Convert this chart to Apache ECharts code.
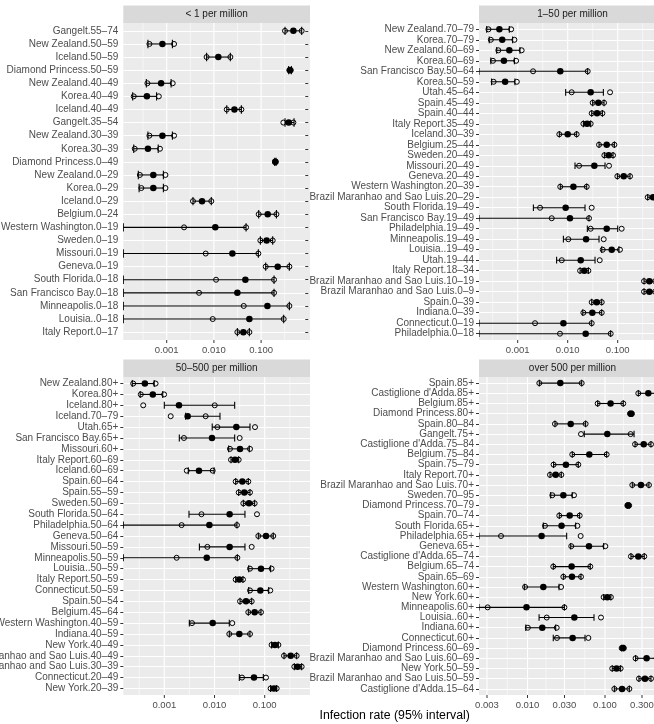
<!DOCTYPE html>
<html><head><meta charset="utf-8">
<script src="https://cdn.jsdelivr.net/npm/echarts@6/dist/echarts.min.js"></script>
<style>html,body{margin:0;padding:0;background:#fff}#c{width:654px;height:724px}</style>
</head><body><div id="c"></div>
<script>
// ---------- DATA ----------
const panelTitles = ["< 1 per million", "1–50 per million", "50–500 per million", "over 500 per million"];
const axisTitle = "Infection rate (95% interval)";
const ticksDecades = [0.001, 0.01, 0.1];
const ticksFine = [0.003, 0.01, 0.03, 0.1, 0.3];

const cats1 = ["Gangelt.55–74","New Zealand.50–59","Iceland.50–59","Diamond Princess.50–59","New Zealand.40–49","Korea.40–49","Iceland.40–49","Gangelt.35–54","New Zealand.30–39","Korea.30–39","Diamond Princess.0–49","New Zealand.0–29","Korea.0–29","Iceland.0–29","Belgium.0–24","Western Washington.0–19","Sweden.0–19","Missouri.0–19","Geneva.0–19","South Florida.0–18","San Francisco Bay.0–18","Minneapolis.0–18","Louisia..0–18","Italy Report.0–17"];
const est1 = [0.483,0.00081,0.0124,0.410,0.00076,0.00038,0.0272,0.384,0.00081,0.00040,0.200,0.00052,0.00052,0.0056,0.138,0.0107,0.131,0.0246,0.225,0.0464,0.0314,0.136,0.0564,0.0421];
const lo1 = [0.321,0.00040,0.0070,0.384,0.00037,0.00019,0.0187,0.321,0.00040,0.00020,0.194,0.00025,0.00026,0.0036,0.0889,0,0.0965,0,0.125,0,0,0,0,0.0314];
const hi1 = [0.724,0.00132,0.0223,0.438,0.00124,0.00061,0.0382,0.499,0.00132,0.00066,0.207,0.00085,0.00085,0.0088,0.211,0.048,0.176,0.0875,0.397,0.188,0.188,0.397,0.301,0.0564];
const altLo1 = [0.321,0.00043,0.0070,0.397,0.00039,0.00020,0.0187,0.296,0.00043,0.00021,0.197,0.00027,0.00029,0.0036,0.0889,0.00233,0.0965,0.0067,0.125,0.0111,0.00484,0.0428,0.00944,0.0314];
const altHi1 = [0.724,0.00143,0.0223,0.424,0.00134,0.00068,0.0382,0.483,0.00143,0.00072,0.204,0.00094,0.00094,0.0088,0.211,0.048,0.176,0.0875,0.397,0.188,0.188,0.397,0.301,0.0564];

const cats2 = ["New Zealand.70–79","Korea.70–79","New Zealand.60–69","Korea.60–69","San Francisco Bay.50–64","Korea.50–59","Utah.45–64","Spain.45–49","Spain.40–44","Italy Report.35–49","Iceland.30–39","Belgium.25–44","Sweden.20–49","Missouri.20–49","Geneva.20–49","Western Washington.20–39","Brazil Maranhao and Sao Luis.20–29","South Florida.19–49","San Francisco Bay.19–49","Philadelphia.19–49","Minneapolis.19–49","Louisia..19–49","Utah.19–44","Italy Report.18–34","Brazil Maranhao and Sao Luis.10–19","Brazil Maranhao and Sao Luis.0–9","Spain.0–39","Indiana.0–39","Connecticut.0–19","Philadelphia.0–18"];
const est2 = [0.00043,0.00049,0.00068,0.00053,0.0071,0.00056,0.0288,0.041,0.0386,0.0244,0.0100,0.0603,0.0661,0.0341,0.132,0.0130,0.509,0.0091,0.0111,0.0603,0.0233,0.0759,0.0182,0.0215,0.430,0.430,0.0380,0.0311,0.0082,0.0229];
const lo2 = [0.00024,0.00027,0.00038,0.00029,0,0.00030,0.0091,0.0316,0.0302,0.0206,0.0068,0.0423,0.0541,0.0140,0.0985,0.0071,0.398,0.00206,0,0.0247,0.0082,0.0479,0.0060,0.0177,0.336,0.336,0.0302,0.0200,0,0];
const hi2 = [0.00068,0.00079,0.00111,0.00086,0.0251,0.00088,0.0517,0.0533,0.0494,0.0288,0.0151,0.0858,0.0807,0.0558,0.1765,0.0240,0.65,0.0222,0.0267,0.100,0.0423,0.106,0.0352,0.0259,0.558,0.558,0.0479,0.0479,0.0302,0.0724];
const altLo2 = [0.00026,0.00029,0.00041,0.00032,0.00203,0.00033,0.0120,0.0316,0.0302,0.0206,0.0068,0.0423,0.0541,0.0169,0.0985,0.0071,0.398,0.0028,0.00479,0.0288,0.0103,0.0501,0.0076,0.0177,0.336,0.336,0.0302,0.0206,0.00222,0.0070];
const altHi2 = [0.00074,0.00086,0.00120,0.00093,0.0251,0.00096,0.0703,0.0533,0.0494,0.0288,0.0151,0.0858,0.0807,0.0671,0.1765,0.0240,0.65,0.0302,0.0267,0.120,0.0525,0.111,0.0437,0.0259,0.558,0.558,0.0479,0.0479,0.0302,0.0724];

const cats3 = ["New Zealand.80+","Korea.80+","Iceland.80+","Iceland.70–79","Utah.65+","San Francisco Bay.65+","Missouri.60+","Italy Report.60–69","Iceland.60–69","Spain.60–64","Spain.55–59","Sweden.50–69","South Florida.50–64","Philadelphia.50–64","Geneva.50–64","Missouri.50–59","Minneapolis.50–59","Louisia..50–59","Italy Report.50–59","Connecticut.50–59","Spain.50–54","Belgium.45–64","Western Washington.40–59","Indiana.40–59","New York.40–49","Brazil Maranhao and Sao Luis.40–49","Brazil Maranhao and Sao Luis.30–39","Connecticut.20–49","New York.20–39"];
const est3 = [0.00041,0.00059,0.00196,0.00292,0.0272,0.0089,0.0322,0.0256,0.0049,0.0358,0.0392,0.0486,0.0200,0.0079,0.106,0.0200,0.0070,0.0843,0.0312,0.0817,0.0424,0.0630,0.0092,0.0312,0.160,0.329,0.453,0.0611,0.153];
const lo3 = [0.00023,0.00033,0.0010,0.00266,0.0090,0.00199,0.0191,0.0213,0.0030,0.0264,0.0303,0.0375,0.0031,0,0.0746,0.0050,0,0.0479,0.0264,0.0479,0.0322,0.0471,0.00315,0.0197,0.137,0.242,0.389,0.0312,0.131];
const hi3 = [0.00063,0.00093,0.0252,0.01285,0.0509,0.0252,0.0494,0.0303,0.0098,0.0471,0.0509,0.063,0.0404,0.028,0.148,0.0404,0.0285,0.131,0.0369,0.120,0.055,0.0843,0.0197,0.0509,0.187,0.433,0.544,0.0938,0.173];
const altLo3 = [0.00024,0.00034,0.00038,0.00134,0.0114,0.00246,0.0203,0.0213,0.0028,0.0264,0.0303,0.0375,0.0055,0.00221,0.0746,0.0072,0.00176,0.0509,0.0264,0.0509,0.0322,0.0471,0.00356,0.0197,0.137,0.242,0.389,0.0353,0.131];
const altHi3 = [0.00067,0.00099,0.0101,0.00666,0.064,0.0317,0.0509,0.0303,0.0092,0.0471,0.0509,0.063,0.0701,0.028,0.148,0.055,0.0285,0.137,0.0369,0.129,0.055,0.0843,0.0226,0.0509,0.187,0.433,0.544,0.106,0.173];

const cats4 = ["Spain.85+","Castiglione d'Adda.85+","Belgium.85+","Diamond Princess.80+","Spain.80–84","Gangelt.75+","Castiglione d'Adda.75–84","Belgium.75–84","Spain.75–79","Italy Report.70+","Brazil Maranhao and Sao Luis.70+","Sweden.70–95","Diamond Princess.70–79","Spain.70–74","South Florida.65+","Philadelphia.65+","Geneva.65+","Castiglione d'Adda.65–74","Belgium.65–74","Spain.65–69","Western Washington.60+","New York.60+","Minneapolis.60+","Louisia..60+","Indiana.60+","Connecticut.60+","Diamond Princess.60–69","Brazil Maranhao and Sao Luis.60–69","New York.50–59","Brazil Maranhao and Sao Luis.50–59","Castiglione d'Adda.15–64"];
const est4 = [0.0265,0.362,0.118,0.216,0.0361,0.107,0.316,0.0627,0.0313,0.0231,0.291,0.029,0.199,0.035,0.0275,0.0152,0.0621,0.269,0.0371,0.0375,0.016,0.107,0.0097,0.0402,0.0155,0.0382,0.170,0.344,0.141,0.328,0.166];
const lo4 = [0.0142,0.269,0.0804,0.210,0.0226,0.054,0.244,0.0378,0.0217,0.0195,0.225,0.0199,0.194,0.0257,0.016,0,0.0361,0.216,0.0215,0.029,0.0091,0.096,0,0.0141,0.0095,0.0215,0.164,0.248,0.124,0.274,0.132];
const hi4 = [0.050,0.488,0.172,0.223,0.0562,0.237,0.392,0.105,0.0452,0.0273,0.369,0.0378,0.205,0.0471,0.0418,0.032,0.096,0.321,0.0645,0.049,0.0255,0.119,0.0299,0.0721,0.0231,0.0552,0.175,0.463,0.159,0.392,0.206];
const altLo4 = [0.0142,0.269,0.0804,0.210,0.0226,0.049,0.244,0.0378,0.0217,0.0195,0.225,0.0209,0.194,0.0257,0.0168,0.00455,0.0367,0.216,0.0215,0.029,0.0093,0.096,0.00306,0.0177,0.0101,0.024,0.164,0.248,0.124,0.274,0.132];
const altHi4 = [0.050,0.488,0.172,0.223,0.0562,0.214,0.392,0.105,0.0452,0.0273,0.369,0.0398,0.205,0.0471,0.044,0.0485,0.101,0.321,0.0645,0.049,0.0271,0.119,0.0299,0.0887,0.0238,0.061,0.175,0.463,0.159,0.392,0.206];

// ---------- LAYOUT ----------
const FONT = '"Liberation Sans", Arial, Helvetica, sans-serif';
const panels = [
  {cats: cats1, est: est1, lo: lo1, hi: hi1, aLo: altLo1, aHi: altHi1, ticks: ticksDecades},
  {cats: cats2, est: est2, lo: lo2, hi: hi2, aLo: altLo2, aHi: altHi2, ticks: ticksDecades},
  {cats: cats3, est: est3, lo: lo3, hi: hi3, aLo: altLo3, aHi: altHi3, ticks: ticksDecades},
  {cats: cats4, est: est4, lo: lo4, hi: hi4, aLo: altLo4, aHi: altHi4, ticks: ticksFine}
];
const boxes = [
  {left: 123.3, top: 23, width: 186.7, height: 317, xMin: -3.92, xMax: 0.036},
  {left: 479, top: 23, width: 187, height: 317, xMin: -3.774, xMax: -0.034},
  {left: 123.3, top: 377, width: 186.7, height: 318, xMin: -3.817, xMax: -0.098},
  {left: 479, top: 377, width: 187, height: 318, xMin: -2.626, xMax: -0.213}
];
const STRIP_H = 17.5;

function minorBreaks(major, lo, hi) {
  const b = major.slice();
  const d = b[1] - b[0];
  if (lo < b[0]) b.unshift(b[0] - d);
  if (hi > b[b.length - 1]) b.push(b[b.length - 1] + d);
  const out = [];
  for (let i = 0; i < b.length - 1; i++) {
    const m = (b[i] + b[i + 1]) / 2;
    if (m >= lo && m <= hi) out.push(m);
  }
  return out;
}

// vertical grid lines (inside panel) or tick marks (below panel) at x positions through the axis scale
function vLineSeries(i, values, opts) {
  return {type: 'custom', xAxisIndex: i, yAxisIndex: i, z: opts.z, silent: true, clip: !opts.tick,
    encode: {x: 0, y: 1}, data: values.map(v => [v, 0]),
    renderItem: (params, api) => {
      const cs = params.coordSys;
      const x = api.coord([api.value(0), 0])[0];
      const y1 = opts.tick ? cs.y + cs.height : cs.y;
      const y2 = opts.tick ? cs.y + cs.height + 3 : cs.y + cs.height;
      return {type: 'line', shape: {x1: x, y1: y1, x2: x, y2: y2},
        style: {stroke: opts.color, lineWidth: opts.width}};
    }};
}

const grid = [], xAxis = [], yAxis = [], series = [], graphic = [];
panels.forEach((p, i) => {
  const B = boxes[i];
  grid.push({left: B.left, top: B.top, width: B.width, height: B.height, show: true,
    backgroundColor: '#EBEBEB', borderWidth: 0, outerBoundsMode: 'none'});
  const major = p.ticks.map(v => Math.log10(v));
  const minor = minorBreaks(major, B.xMin, B.xMax);
  xAxis.push({type: 'value', gridIndex: i, min: B.xMin, max: B.xMax, position: 'bottom',
    axisLine: {show: false}, axisTick: {show: false},
    axisLabel: {customValues: major, formatter: v => Math.pow(10, v).toFixed(3),
      color: '#4D4D4D', fontSize: 9.5, fontFamily: FONT, margin: 5},
    splitLine: {show: false}});
  const n = p.cats.length;
  const idx = p.cats.map((_, k) => k);
  yAxis.push({type: 'value', gridIndex: i, min: -0.6, max: n - 0.4, inverse: true,
    axisLine: {show: false},
    axisTick: {show: true, length: 3, lineStyle: {color: '#333333', width: 1}, customValues: idx},
    axisLabel: {customValues: idx, formatter: v => p.cats[Math.round(v)],
      color: '#4D4D4D', fontSize: 10, fontFamily: FONT, margin: 5},
    splitLine: {show: true, lineStyle: {color: '#FFFFFF', width: 1.1}}});

  series.push(vLineSeries(i, minor, {z: 5, color: '#FFFFFF', width: 0.55}));
  series.push(vLineSeries(i, major, {z: 6, color: '#FFFFFF', width: 1.1}));
  series.push(vLineSeries(i, major, {z: 6, color: '#333333', width: 1, tick: true}));

  const bars = p.est.map((_, k) => [k, p.lo[k] > 0 ? Math.log10(p.lo[k]) : B.xMin, Math.log10(p.hi[k])]);
  series.push({type: 'custom', xAxisIndex: i, yAxisIndex: i, clip: true, z: 10,
    encode: {x: [1, 2], y: 0}, data: bars,
    renderItem: (params, api) => {
      const y = api.value(0);
      const a = api.coord([api.value(1), y]);
      const b = api.coord([api.value(2), y]);
      const h = api.size([0, 1])[1] * 0.32;
      const st = {stroke: '#000', lineWidth: 1.1, fill: null};
      return {type: 'group', children: [
        {type: 'line', shape: {x1: a[0], y1: a[1], x2: b[0], y2: b[1]}, style: st},
        {type: 'line', shape: {x1: a[0], y1: a[1] - h, x2: a[0], y2: a[1] + h}, style: st},
        {type: 'line', shape: {x1: b[0], y1: b[1] - h, x2: b[0], y2: b[1] + h}, style: st}
      ]};
    }});
  series.push({type: 'scatter', xAxisIndex: i, yAxisIndex: i, z: 11, symbol: 'circle', symbolSize: 6.5,
    itemStyle: {color: '#000', opacity: 1}, clip: true,
    data: p.est.map((v, k) => [Math.log10(v), k])});
  const open = [];
  p.aLo.forEach((v, k) => { open.push([Math.log10(v), k]); open.push([Math.log10(p.aHi[k]), k]); });
  series.push({type: 'scatter', xAxisIndex: i, yAxisIndex: i, z: 12, symbol: 'circle', symbolSize: 5,
    itemStyle: {color: 'rgba(0,0,0,0)', borderColor: '#000', borderWidth: 1, opacity: 1}, clip: true,
    data: open});

  graphic.push({type: 'rect', shape: {x: B.left, y: B.top - STRIP_H, width: B.width, height: STRIP_H},
    style: {fill: '#D9D9D9'}, silent: true});
  graphic.push({type: 'text', x: B.left + B.width / 2, y: B.top - STRIP_H / 2,
    style: {text: panelTitles[i], fill: '#1A1A1A', font: '10px ' + FONT, textAlign: 'center', textVerticalAlign: 'middle'}, silent: true});
});
graphic.push({type: 'text', x: (boxes[0].left + boxes[1].left + boxes[1].width) / 2, y: 716,
  style: {text: axisTitle, fill: '#000', font: '12.3px ' + FONT, textAlign: 'center', textVerticalAlign: 'middle'}, silent: true});

const chart = echarts.init(document.getElementById('c'), null, {renderer: 'canvas'});
chart.setOption({animation: false, backgroundColor: '#FFFFFF', textStyle: {fontFamily: FONT},
  grid, xAxis, yAxis, series, graphic});
</script></body></html>
